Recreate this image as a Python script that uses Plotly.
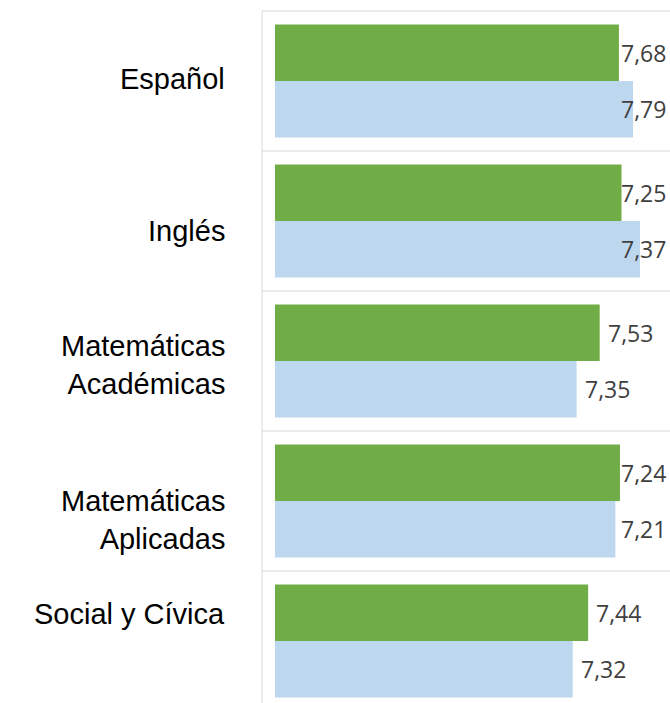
import plotly.graph_objects as go
from plotly.subplots import make_subplots

# ---- data ----
categories = ["Español", "Inglés", "Matemáticas<br>Académicas", "Matemáticas<br>Aplicadas", "Social y Cívica"]
serie_verde = [7.68, 7.25, 7.53, 7.24, 7.44]
serie_azul = [7.79, 7.37, 7.35, 7.21, 7.32]
axis_min = [5, 5, 5, 5, 5]
axis_max = [8, 7.5, 8, 7.5, 8]

def fmt(v):
    return f"{v:.2f}".replace(".", ",")

# ---- layout geometry (pixels) ----
W, H = 670, 703
x_left_px, x_right_px = 275, 660
panel_top0, panel_pitch = 11, 140
bar_unit_px = 56.5
pad_units = (panel_pitch - 2 * bar_unit_px) / 2 / bar_unit_px
label_centers_px = [78.5, 231, 364.5, 520, 614]
GREEN = "#70AD47"
BLUE = "#BDD7EE"
GRID = "#D9D9D9"
VAL_FONT = dict(family="Open Sans", size=23, color="#404040")
CAT_FONT = dict(family="Liberation Sans, Arial", size=29, color="#000000")

n = len(categories)
fig = make_subplots(rows=n, cols=1)

annotations = []
for k in range(n):
    top = panel_top0 + panel_pitch * k
    bottom = top + panel_pitch
    bottom_c = min(bottom, H)
    r = k + 1
    fig.add_trace(go.Bar(x=[serie_azul[k]], y=[0], orientation="h", width=1,
                         marker=dict(color=BLUE, line=dict(width=0)),
                         showlegend=False, hoverinfo="skip"), row=r, col=1)
    fig.add_trace(go.Bar(x=[serie_verde[k]], y=[1], orientation="h", width=1,
                         marker=dict(color=GREEN, line=dict(width=0)),
                         showlegend=False, hoverinfo="skip"), row=r, col=1)
    suffix = "" if r == 1 else str(r)
    upper = 1.5 + pad_units
    lower = upper - (bottom_c - top) / bar_unit_px
    fig.layout[f"xaxis{suffix}"].update(domain=[x_left_px / W, x_right_px / W],
                                        range=[axis_min[k], axis_max[k]], visible=False,
                                        showgrid=False, zeroline=False, fixedrange=True)
    fig.layout[f"yaxis{suffix}"].update(domain=[1 - bottom_c / H, 1 - top / H],
                                        range=[lower, upper], visible=False,
                                        showgrid=False, zeroline=False, fixedrange=True)
    # value labels
    for val, yy in ((serie_verde[k], 1), (serie_azul[k], 0)):
        end_px = x_left_px + (val - axis_min[k]) / (axis_max[k] - axis_min[k]) * (x_right_px - x_left_px)
        if end_px + 8 + 52 > 668:
            annotations.append(dict(xref="paper", x=668 / W, xanchor="right",
                                    yref=f"y{suffix}", y=yy, yanchor="middle",
                                    text=fmt(val), showarrow=False, font=VAL_FONT))
        else:
            annotations.append(dict(xref=f"x{suffix}", x=val, xanchor="left", xshift=6,
                                    yref=f"y{suffix}", y=yy, yanchor="middle",
                                    text=fmt(val), showarrow=False, font=VAL_FONT))
    # category labels
    annotations.append(dict(xref="paper", x=227 / W, xanchor="right", align="right",
                            yref="paper", y=1 - label_centers_px[k] / H, yanchor="middle",
                            text=categories[k], showarrow=False, font=CAT_FONT))

shapes = [dict(type="line", xref="paper", yref="paper",
               x0=262 / W, x1=262 / W, y0=1 - panel_top0 / H, y1=0,
               line=dict(color=GRID, width=1))]
for k in range(n):
    yp = panel_top0 + panel_pitch * k
    shapes.append(dict(type="line", xref="paper", yref="paper",
                       x0=262 / W, x1=1, y0=1 - yp / H, y1=1 - yp / H,
                       line=dict(color=GRID, width=1)))

fig.update_layout(width=W, height=H, margin=dict(l=0, r=0, t=0, b=0),
                  paper_bgcolor="white", plot_bgcolor="white",
                  barmode="overlay", showlegend=False, hovermode=False,
                  annotations=annotations, shapes=shapes)

fig.write_html("out.html",
               config={"displayModeBar": False, "staticPlot": True},
               post_script="document.body.style.margin='0';document.body.style.padding='0';"
                           "document.body.style.overflow='hidden';")
